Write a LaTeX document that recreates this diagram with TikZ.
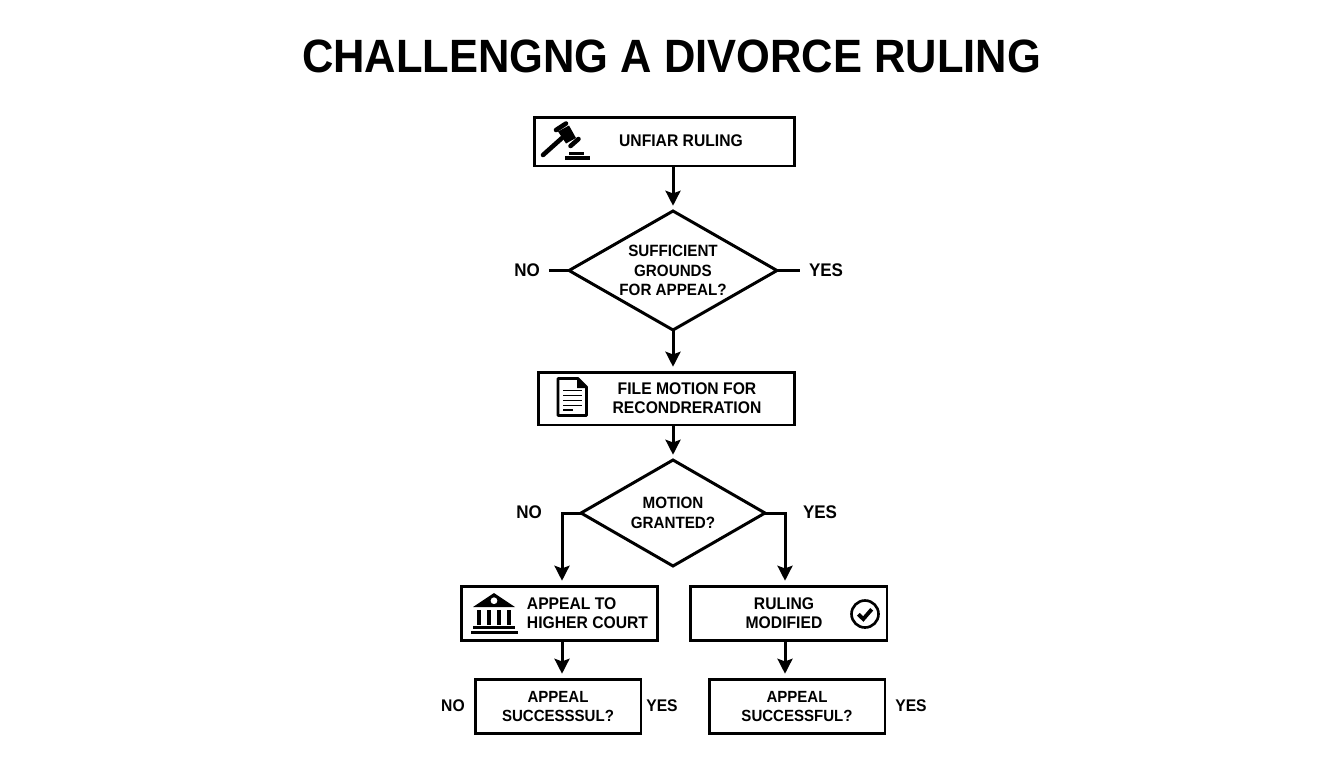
\documentclass[tikz,border=0pt]{standalone}
\usepackage{fontspec}
\setmainfont[FakeStretch=0.93]{Liberation Sans}
\usetikzlibrary{shapes.geometric,arrows.meta}
\tikzset{
	flowbox/.style={draw, line width=1.7pt, rectangle, inner sep=0pt, outer sep=0pt},
	flowtext/.style={font=\fontsize{9.6}{11.1}\selectfont\bfseries, align=center, inner sep=0pt},
	flowtighter/.style={font=\fontsize{9.2}{11.1}\selectfont\bfseries},
	flowquestion/.style={draw, line width=1.7pt, diamond, inner sep=0pt, outer sep=0pt, font=\fontsize{9.3}{11.1}\selectfont\bfseries, align=center},
	flowarrow/.style={line width=1.7pt, -{Stealth[length=8.5pt,width=8.5pt,inset=1.5pt]}, shorten >=3pt},
	flowstub/.style={line width=1.7pt},
	flowword/.style={font=\fontsize{10.4}{11}\selectfont\bfseries, inner sep=0pt},
	flowsmall/.style={font=\fontsize{9.6}{11}\selectfont\bfseries, inner sep=0pt},
}
\begin{document}
\begin{tikzpicture}[x=0.02cm,y=-0.02cm]
	\useasboundingbox (0,0) rectangle (1344,768);
	%Title
	\node[font=\fontsize{26.6}{30}\selectfont\bfseries, inner sep=0pt] (title) at (671.5,56) {CHALLENGNG A DIVORCE RULING};
	%Boxes
	\node[flowbox, minimum width=5.22cm, minimum height=0.98cm] (ruling) at (664.5,141.5) {};
	\node[flowbox, minimum width=5.14cm, minimum height=1.06cm] (motion) at (666.5,398.5) {};
	\node[flowbox, minimum width=3.94cm, minimum height=1.08cm] (court) at (559.5,613) {};
	\node[flowbox, minimum width=3.94cm, minimum height=1.08cm] (modified) at (788.5,613) {};
	\node[flowbox, flowtext, flowtighter, minimum width=3.32cm, minimum height=1.08cm] (leftresult) at (558,706.5) {APPEAL\\SUCCESSSUL?};
	\node[flowbox, flowtext, flowtighter, minimum width=3.52cm, minimum height=1.08cm] (rightresult) at (797,706.5) {APPEAL\\SUCCESSFUL?};
	%Box texts
	\node[flowtext] (rulingtext) at (681,141) {UNFIAR RULING};
	\node[flowtext] (motiontext) at (687,398) {FILE MOTION FOR\\RECONDRERATION};
	\node[flowtext, align=left] (courttext) at (587.5,613) {APPEAL TO\\HIGHER COURT};
	\node[flowtext] (modifiedtext) at (784,613) {RULING\\MODIFIED};
	%Diamonds
	\node[flowquestion, shape aspect=1.75, minimum width=4.16cm, minimum height=2.38cm] (grounds) at (673,270.5) {SUFFICIENT\\GROUNDS\\FOR APPEAL?};
	\node[flowquestion, shape aspect=1.75, minimum width=3.68cm, minimum height=2.12cm] (granted) at (673,513) {MOTION\\GRANTED?};
	%Labels
	\node[flowword] (groundsno) at (527,270.5) {NO};
	\node[flowword] (groundsyes) at (826,270.5) {YES};
	\node[flowword] (grantedno) at (529,512) {NO};
	\node[flowword] (grantedyes) at (820,512) {YES};
	\node[flowsmall] (leftno) at (453,706) {NO};
	\node[flowsmall] (leftyes) at (662,706) {YES};
	\node[flowsmall] (rightyes) at (911,706) {YES};
	%coordinates
	\coordinate (rulingout) at (673,166);
	\coordinate (motionin) at (673,372);
	\coordinate (motionout) at (673,425);
	\coordinate (courtin) at (562,586);
	\coordinate (courtout) at (562,640);
	\coordinate (modifiedin) at (785,586);
	\coordinate (modifiedout) at (785,640);
	\coordinate (leftin) at (562,679);
	\coordinate (rightin) at (785,679);
	%Arrows
	\draw[flowarrow] (rulingout) -- (grounds.north);
	\draw[flowarrow] (grounds.south) -- (motionin);
	\draw[flowarrow] (motionout) -- (granted.north);
	\draw[flowarrow] (granted.west) -| (courtin);
	\draw[flowarrow] (granted.east) -| (modifiedin);
	\draw[flowarrow] (courtout) -- (leftin);
	\draw[flowarrow] (modifiedout) -- (rightin);
	\draw[flowstub, shorten <=5pt] (groundsno.east) -- (grounds.west);
	\draw[flowstub, shorten <=5pt] (groundsyes.west) -- (grounds.east);
	%Gavel
	\draw[line width=2.6pt, line cap=round] (543,155) -- (562,138);
	\fill (558,131.5) -- (569,125.5) -- (576,138) -- (566,143.5) -- cycle;
	\draw[line width=2.6pt, line cap=round] (556,130) -- (566,123.5);
	\draw[line width=2.6pt, line cap=round] (570.5,146) -- (578.5,139);
	\fill (569,152) rectangle (584,154.5);
	\fill (564.5,156) rectangle (590,159.5);
	%Document
	\draw[line width=1.6pt, line join=round] (558,378.5) -- (578,378.5) -- (586.5,387) -- (586.5,415.5) -- (558,415.5) -- cycle;
	\fill (577,378) -- (587,388) -- (577,388) -- cycle;
	\foreach \y in {390.5,395.5,400.5,405.5} {
		\draw[line width=1.1pt] (563,\y) -- (581.5,\y);
	}
	\draw[line width=1.1pt] (563,410) -- (573,410);
	%Court
	\fill[even odd rule] (473,607) -- (494,593) -- (515,607) -- cycle (494,600.7) circle (3.5);
	\foreach \x in {476.7,486.7,496.7,506.7} {
		\fill (\x,609.7) rectangle (\x+4.5,624.7);
	}
	\fill (473.3,626.3) rectangle (514.5,629);
	\fill (470.7,630.5) rectangle (517.7,633.5);
	%Check
	\draw[line width=1.5pt] (865,614) circle (13.5);
	\draw[line width=2.2pt] (858.3,614.3) -- (863.3,619) -- (871.7,609.3);
\end{tikzpicture}
\end{document}
